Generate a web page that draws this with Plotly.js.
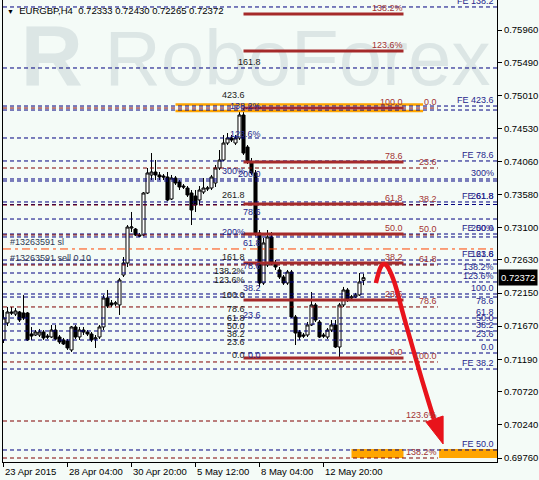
<!DOCTYPE html>
<html><head><meta charset="utf-8">
<script src="https://cdn.plot.ly/plotly-3.0.1.min.js"></script>
<style>html,body{margin:0;padding:0;background:#F4FBF7}#chart{width:539px;height:480px}</style>
</head><body><div id="chart"></div>
<script>
// ---------- data ----------
const symbol = "EURGBP,H4";
const open = [
0.71470,0.71716,0.71875,0.71846,0.71875,0.71861,0.71861,0.71556,0.71542,0.71542,
0.71585,0.71527,0.71513,0.71614,0.71513,0.71470,0.71455,0.71325,0.71658,0.71513,
0.71614,0.71585,0.71556,0.71484,0.71513,0.71658,0.72078,0.72006,0.71991,0.71977,
0.72411,0.72585,0.73092,0.73077,0.72991,0.72991,0.73599,0.73860,0.73903,0.73860,
0.73845,0.73831,0.73512,0.73816,0.73758,0.73700,0.73671,0.73599,0.73555,0.73498,
0.73613,0.73657,0.73671,0.73744,0.73961,0.74077,0.74323,0.74396,0.74323,0.74396,
0.74729,0.74265,0.74048,0.73889,0.73020,0.72295,0.72556,0.72962,0.72585,0.72484,
0.72382,0.72295,0.72455,0.71803,0.71585,0.71542,0.71542,0.71687,0.71977,0.71730,
0.71542,0.71513,0.71614,0.71687,0.71368,0.71977,0.72194,0.72078,0.72093,0.72122,
0.72333];
const high = [
0.71904,0.71948,0.71948,0.71933,0.71890,0.72122,0.71875,0.71658,0.71614,0.71629,
0.71614,0.71556,0.71687,0.71687,0.71542,0.71499,0.71484,0.71672,0.71687,0.71658,
0.71658,0.71614,0.71585,0.71542,0.71687,0.72122,0.72194,0.72049,0.72035,0.72368,
0.72672,0.73135,0.73324,0.73092,0.73020,0.73613,0.73961,0.74178,0.74077,0.73903,
0.73874,0.73903,0.73860,0.73845,0.73787,0.73729,0.73700,0.73642,0.73642,0.73700,
0.73816,0.73700,0.73860,0.74005,0.74222,0.74439,0.74468,0.74439,0.74439,0.74801,
0.74830,0.74294,0.74106,0.73932,0.73063,0.72947,0.73063,0.73034,0.72629,0.72527,
0.72411,0.72484,0.72484,0.71832,0.71614,0.71571,0.71730,0.72165,0.72006,0.71759,
0.71571,0.71643,0.71759,0.71759,0.72006,0.72238,0.72223,0.72122,0.72151,0.72440,
0.72430];
const low = [
0.71426,0.71672,0.71832,0.71817,0.71730,0.71759,0.71455,0.71470,0.71527,0.71513,
0.71470,0.71484,0.71499,0.71470,0.71412,0.71397,0.71325,0.71296,0.71484,0.71470,
0.71542,0.71527,0.71441,0.71354,0.71484,0.71614,0.71933,0.71948,0.71962,0.71832,
0.72382,0.72527,0.73034,0.72976,0.72962,0.72976,0.73584,0.73787,0.73787,0.73787,
0.73787,0.73483,0.73498,0.73715,0.73642,0.73657,0.73541,0.73135,0.73324,0.73425,
0.73584,0.73628,0.73642,0.73686,0.73932,0.74063,0.74294,0.74338,0.74294,0.74367,
0.74150,0.74019,0.73860,0.72976,0.72238,0.72267,0.72527,0.72556,0.72484,0.72353,
0.72267,0.72267,0.71788,0.71397,0.71470,0.71499,0.71513,0.71672,0.71730,0.71499,
0.71499,0.71484,0.71585,0.71354,0.71209,0.71948,0.72020,0.72049,0.72078,0.72107,
0.72265];
const close = [
0.71788,0.71875,0.71861,0.71890,0.71759,0.71788,0.71470,0.71527,0.71585,0.71585,
0.71499,0.71513,0.71614,0.71484,0.71441,0.71412,0.71354,0.71658,0.71513,0.71614,
0.71585,0.71556,0.71470,0.71499,0.71658,0.72078,0.71962,0.71977,0.72006,0.72339,
0.72585,0.73106,0.73106,0.72991,0.72976,0.73599,0.73889,0.73903,0.73860,0.73831,
0.73831,0.73498,0.73816,0.73744,0.73686,0.73686,0.73570,0.73353,0.73425,0.73642,
0.73671,0.73671,0.73831,0.73961,0.74077,0.74323,0.74396,0.74367,0.74396,0.74729,
0.74178,0.74048,0.73889,0.73020,0.72295,0.72875,0.72962,0.72585,0.72527,0.72382,
0.72295,0.72455,0.71803,0.71571,0.71513,0.71527,0.71687,0.71977,0.71759,0.71513,
0.71527,0.71614,0.71687,0.71368,0.71977,0.72194,0.72049,0.72093,0.72122,0.72310,
0.72372];

const xTickBars = [0,16,32,48,64,80];
const xTickLabels = ["23 Apr 2015","28 Apr 04:00","30 Apr 20:00","5 May 12:00","8 May 04:00","12 May 20:00"];
const yTickVals = [0.75960,0.75490,0.75010,0.74530,0.74060,0.73580,0.73100,0.72630,0.72150,0.71670,0.71190,0.70720,0.70240,0.69760];

// horizontal levels (prices)
const navyLevels = [0.76294,0.75410,0.74859,0.74801,0.74396,0.74063,0.73802,0.73773,0.73469,0.73432,0.73222,0.73005,0.72962,0.72628,0.72570,0.72440,0.72310,0.72136,0.72092,0.71788,0.71701,0.71600,0.71469,0.71281,0.71049,0.69876];
const fib2Levels = [0.74830,0.73961,0.73425,0.72991,0.72556,0.71948,0.71151,0.70296,0.69760];
const fib2Text = ["0.0","23.6","38.2","50.0","61.8","78.6","100.0","123.6%","138.2%"];
const retraceLevels = [0.76192,0.75656,0.74830,0.74048,0.73440,0.73005,0.72585,0.72049,0.71209];
const retraceText = ["138.2%","123.6%","100.0","78.6","61.8","50.0","38.2","23.6","0.0"];
const stopLoss = 0.72788;
const orangeTopBand = [0.74881,0.74787];
const orangeBottomBand = [0.69760,0.69890];

const rightLabelText = ["FE 138.2","FE 423.6","FE 78.6","300%","FE 61.8","261.8","FE 50.0","200%","FE 23.6","161.8","138.2%","123.6%","100.0","78.6","61.8","50.0","38.2","23.6","0.0","FE 38.2","FE 50.0"];
const rightLabelPrice = [0.76294,0.74859,0.74063,0.73802,0.73469,0.73469,0.73005,0.73005,0.72628,0.72628,0.72440,0.72310,0.72136,0.71948,0.71788,0.71701,0.71600,0.71469,0.71281,0.71049,0.69876];

const feBlackText = ["423.6","261.8","161.8","138.2%","123.6%","100.0","78.6","61.8","50.0","38.2","23.6","0.0"];
const feBlackPrice = [0.75019,0.73570,0.72672,0.72469,0.72339,0.72121,0.71919,0.71788,0.71672,0.71556,0.71440,0.71252];
const feNavyText = ["138.2%","123.6%","200.0","78.6","61.8","78.6","38.2","23.6","0.0"];
const feNavyPrice = [0.74859,0.74454,0.73874,0.73324,0.72875,0.72542,0.72223,0.71832,0.71252];
const pctNavyText = ["300%","200%"];
const pctNavyPrice = [0.73918,0.73034];
const topBlackText = ["161.8"];
const topBlackPrice = [0.75497];

const orderText = ["#13263591 sl","#13263591 sell 0.10"];
const orderPrice = [0.72889,0.72658];

const arrowBars = [93.1,93.9,94.9,96.1,97.9,99.6,102.1,104.6,107.6];
const arrowPrices = [0.72295,0.72484,0.72585,0.72541,0.72295,0.71904,0.71397,0.70890,0.70325];
const arrowHeadBars = [105.6,109.9,109.9];
const arrowHeadPrices = [0.70282,0.70368,0.69963];

const watermarkText = ["<b>R</b>","RoboForex"];
const watermarkBar = [12.1,73.5];
const watermarkPrice = [0.75470,0.75450];
const watermarkSize = [86,78];

// ---------- styling ----------
const BG = '#F4FBF7';
const FONT = 'Liberation Sans, Arial, sans-serif';
const NAVY = '#000080', MAROON = '#800000', BROWN = '#A52A2A', ORANGE = '#FFA500';
const NAVY_TXT = '#26268C', MAROON_TXT = '#A33333', BLACK_TXT = '#1a1a1a';
const X0 = -0.125, X1 = 123.375, Y0 = 0.69702, Y1 = 0.76395;
const RETR_START = 60, RETR_END = 100, FIB2_END = 108.6;
const RIGHT_BAR = 122.9, FE_BLACK_BAR = 60.6, FE_NAVY_BAR = 64.6;

const bars = open.map((_, i) => i);
const shapes = [];
function hline(y, x0, x1, color, width, dash){
  shapes.push({type:'line', xref:'x', yref:'y', x0:x0, x1:x1, y0:y, y1:y, layer:'above',
    line:{color:color, width:width, dash:dash}});
}
// orange bands
orangeTopBand.forEach(y => hline(y, 43, 104.9, ORANGE, 2.5, 'solid'));
shapes.push({type:'rect', xref:'x', yref:'y', x0:87, x1:100, y0:orangeBottomBand[0], y1:orangeBottomBand[1], fillcolor:ORANGE, line:{width:0}, layer:'above'});
shapes.push({type:'rect', xref:'x', yref:'y', x0:108.9, x1:X1, y0:orangeBottomBand[0], y1:orangeBottomBand[1], fillcolor:ORANGE, line:{width:0}, layer:'above'});
navyLevels.forEach(y => hline(y, X0, X1, NAVY, 1, '4px,3px'));
fib2Levels.forEach(y => hline(y, X0, FIB2_END, MAROON, 1, '4px,3px'));
retraceLevels.forEach(y => hline(y, RETR_START, RETR_END, BROWN, 3, 'solid'));
hline(stopLoss, X0, X1, '#FF4500', 1, '8px,4px,3px,4px');

// red forecast arrow
function smoothPath(xs, ys){
  let d = 'M' + xs[0] + ',' + ys[0];
  for (let k = 1; k < xs.length - 1; k++){
    const mx = (xs[k] + xs[k+1]) / 2, my = (ys[k] + ys[k+1]) / 2;
    d += ' Q' + xs[k] + ',' + ys[k] + ' ' + mx + ',' + my;
  }
  d += ' L' + xs[xs.length-1] + ',' + ys[ys.length-1];
  return d;
}
shapes.push({type:'path', xref:'x', yref:'y', path:smoothPath(arrowBars, arrowPrices), line:{color:'#E8131B', width:4.5}, layer:'above'});
shapes.push({type:'path', xref:'x', yref:'y', path:'M' + arrowHeadBars.map((b,k)=>b + ',' + arrowHeadPrices[k]).join(' L') + ' Z', fillcolor:'#E8131B', line:{color:'#E8131B', width:1}, layer:'above'});

// ---------- annotations ----------
const annotations = [];
function lab(text, x, y, color, xanchor, yanchor){
  annotations.push({text:text, x:x, y:y, xref:'x', yref:'y', showarrow:false, xanchor:xanchor, yanchor:yanchor,
    font:{family:FONT, size:9, color:color}, borderpad:0});
}
retraceLevels.forEach((y,k) => lab(retraceText[k], RETR_END, y, MAROON_TXT, 'right', 'bottom'));
fib2Levels.forEach((y,k) => lab(fib2Text[k], FIB2_END, y, MAROON_TXT, 'right', 'bottom'));
rightLabelPrice.forEach((y,k) => lab(rightLabelText[k], RIGHT_BAR, y, NAVY_TXT, 'right', 'bottom'));
feBlackPrice.forEach((y,k) => lab(feBlackText[k], FE_BLACK_BAR, y, BLACK_TXT, 'right', 'middle'));
feNavyPrice.forEach((y,k) => lab(feNavyText[k], FE_NAVY_BAR, y, NAVY_TXT, 'right', 'middle'));
pctNavyPrice.forEach((y,k) => lab(pctNavyText[k], FE_BLACK_BAR, y, NAVY_TXT, 'right', 'middle'));
topBlackPrice.forEach((y,k) => lab(topBlackText[k], FE_NAVY_BAR, y, BLACK_TXT, 'right', 'middle'));
orderPrice.forEach((y,k) => lab(orderText[k], 1.4, y, '#2F3A55', 'left', 'middle'));

// x tick labels (start at the tick, MT4 style)
xTickBars.forEach((b,k) => annotations.push({text:xTickLabels[k], x:b, y:0, xref:'x', yref:'paper', showarrow:false,
  xanchor:'left', yanchor:'top', yshift:-3, font:{family:FONT, size:9.5, color:'#000'}, borderpad:0}));

// header
const last = open.length - 1;
const fmt = v => v.toFixed(5);
annotations.push({xref:'paper', yref:'paper', x:0.006, y:1, xanchor:'left', yanchor:'top', yshift:-4, showarrow:false, borderpad:0,
  text:'<span style="font-size:7px">▼</span>\u00a0\u00a0' + symbol + '\u00a0\u00a0' + [open[last],high[last],low[last],close[last]].map(fmt).join(' '),
  font:{family:FONT, size:9.5, color:'#000'}});
// current price tag
annotations.push({xref:'paper', yref:'y', x:1, y:close[last], xanchor:'left', yanchor:'middle', xshift:1, showarrow:false,
  text:fmt(close[last]), bgcolor:'#000', borderpad:2, font:{family:FONT, size:9.5, color:'#fff'}});

// ---------- traces ----------
const traces = watermarkText.map((t,k) => ({type:'scatter', mode:'text', x:[watermarkBar[k]], y:[watermarkPrice[k]], text:[t],
   textposition:'middle center', cliponaxis:false,
   textfont:{family:FONT, size:watermarkSize[k], color:'#DCE6E5'}, hoverinfo:'skip', showlegend:false}));
traces.push({type:'candlestick', x:bars, open:open, high:high, low:low, close:close,
   increasing:{fillcolor:'#FFFFFF', line:{color:'#000', width:1}},
   decreasing:{fillcolor:'#000000', line:{color:'#000', width:1}},
   whiskerwidth:0, hoverinfo:'skip', showlegend:false});

const layout = {
  width:539, height:480,
  margin:{l:3, r:42, t:0, b:18, pad:0},
  paper_bgcolor:BG, plot_bgcolor:BG,
  showlegend:false, hovermode:false,
  boxgap:0.15, boxgroupgap:0.1,
  font:{family:FONT, size:9.5, color:'#000'},
  xaxis:{range:[X0,X1], showgrid:false, zeroline:false, showline:true, linecolor:'#000', linewidth:1,
    ticks:'outside', ticklen:4, tickcolor:'#000', tickvals:xTickBars, showticklabels:false,
    rangeslider:{visible:false}, fixedrange:true},
  yaxis:{range:[Y0,Y1], side:'right', showgrid:false, zeroline:false, showline:true, mirror:true,
    linecolor:'#000', linewidth:1, ticks:'outside', ticklen:4, tickcolor:'#000',
    tickvals:yTickVals, ticktext:yTickVals.map(fmt), tickfont:{family:FONT, size:9.5, color:'#000'}, fixedrange:true},
  shapes:shapes, annotations:annotations
};
Plotly.newPlot('chart', traces, layout, {displayModeBar:false, staticPlot:true});
</script>
</body></html>
